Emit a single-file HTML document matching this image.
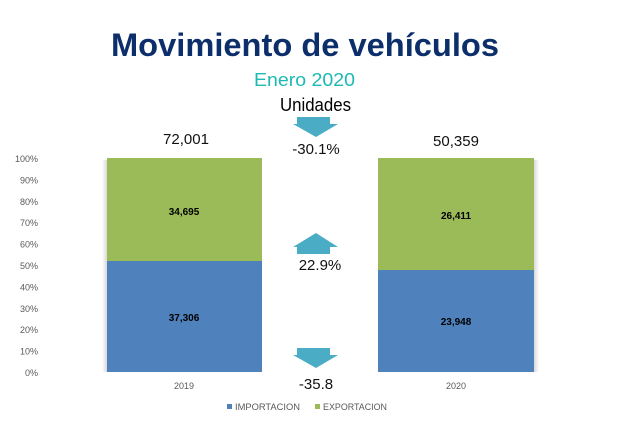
<!DOCTYPE html>
<html><head><meta charset="utf-8"><style>
html,body{margin:0;padding:0;background:#fff;}
svg{display:block;}
text{font-family:"Liberation Sans",sans-serif;}
</style></head><body>
<svg width="632" height="425" viewBox="0 0 632 425" xmlns="http://www.w3.org/2000/svg">
<defs>
<linearGradient id="shL" x1="0" x2="1" y1="0" y2="0"><stop offset="0" stop-color="#fff"/><stop offset="1" stop-color="#d9d9d9"/></linearGradient>
<linearGradient id="shR" x1="0" x2="1" y1="0" y2="0"><stop offset="0" stop-color="#d9d9d9"/><stop offset="1" stop-color="#fff"/></linearGradient>
</defs>
<rect width="632" height="425" fill="#fff"/>
<!-- titles -->
<text x="111" y="56" font-size="32" font-weight="bold" fill="#0c2f6c" textLength="388" lengthAdjust="spacingAndGlyphs">Movimiento de vehículos</text>
<text x="254" y="86" font-size="18" fill="#1dbab3" textLength="101" lengthAdjust="spacingAndGlyphs">Enero 2020</text>
<text x="280" y="111" font-size="18" fill="#000" textLength="71" lengthAdjust="spacingAndGlyphs">Unidades</text>

<!-- y axis labels -->
<g font-size="9" fill="#595959" text-anchor="end">
<text x="38" y="162">100%</text>
<text x="38" y="183.4">90%</text>
<text x="38" y="204.8">80%</text>
<text x="38" y="226.2">70%</text>
<text x="38" y="247.6">60%</text>
<text x="38" y="269">50%</text>
<text x="38" y="290.4">40%</text>
<text x="38" y="311.8">30%</text>
<text x="38" y="333.2">20%</text>
<text x="38" y="354.6">10%</text>
<text x="38" y="376">0%</text>
</g>

<!-- bar shadows -->
<rect x="102" y="160" width="5" height="212" fill="url(#shL)"/>
<rect x="534" y="160" width="5" height="212" fill="url(#shR)"/>
<!-- bars -->
<rect x="107" y="158" width="155" height="103" fill="#9bbb59"/>
<rect x="107" y="261" width="155" height="111" fill="#4f81bd"/>
<rect x="378" y="158" width="156" height="112" fill="#9bbb59"/>
<rect x="378" y="270" width="156" height="102" fill="#4f81bd"/>

<!-- data labels -->
<g font-size="10" font-weight="bold" fill="#000" text-anchor="middle">
<text x="184" y="215">34,695</text>
<text x="184" y="321">37,306</text>
<text x="456" y="219">26,411</text>
<text x="456" y="325">23,948</text>
</g>

<!-- totals -->
<g font-size="15" fill="#111" text-anchor="middle">
<text x="186" y="144">72,001</text>
<text x="456" y="146">50,359</text>
<text x="316" y="154">-30.1%</text>
<text x="320" y="270">22.9%</text>
<text x="316" y="389">-35.8</text>
</g>

<!-- arrows -->
<polygon points="297,117 330,117 330,124 338,124 316,137 293,124 297,124" fill="#4bacc6"/>
<polygon points="316,233 338,247 330,247 330,254 297,254 297,247 293,247" fill="#4bacc6"/>
<polygon points="297,348 330,348 330,355 338,355 316,368 293,355 297,355" fill="#4bacc6"/>

<!-- category labels -->
<g font-size="9" fill="#595959" text-anchor="middle">
<text x="184" y="389">2019</text>
<text x="456" y="389">2020</text>
</g>

<!-- legend -->
<rect x="227" y="404" width="5" height="5" fill="#4f81bd"/>
<text x="235" y="410" font-size="9" fill="#595959" textLength="65" lengthAdjust="spacingAndGlyphs">IMPORTACION</text>
<rect x="315" y="404" width="5" height="5" fill="#9bbb59"/>
<text x="323" y="410" font-size="9" fill="#595959" textLength="64" lengthAdjust="spacingAndGlyphs">EXPORTACION</text>
</svg>
</body></html>
